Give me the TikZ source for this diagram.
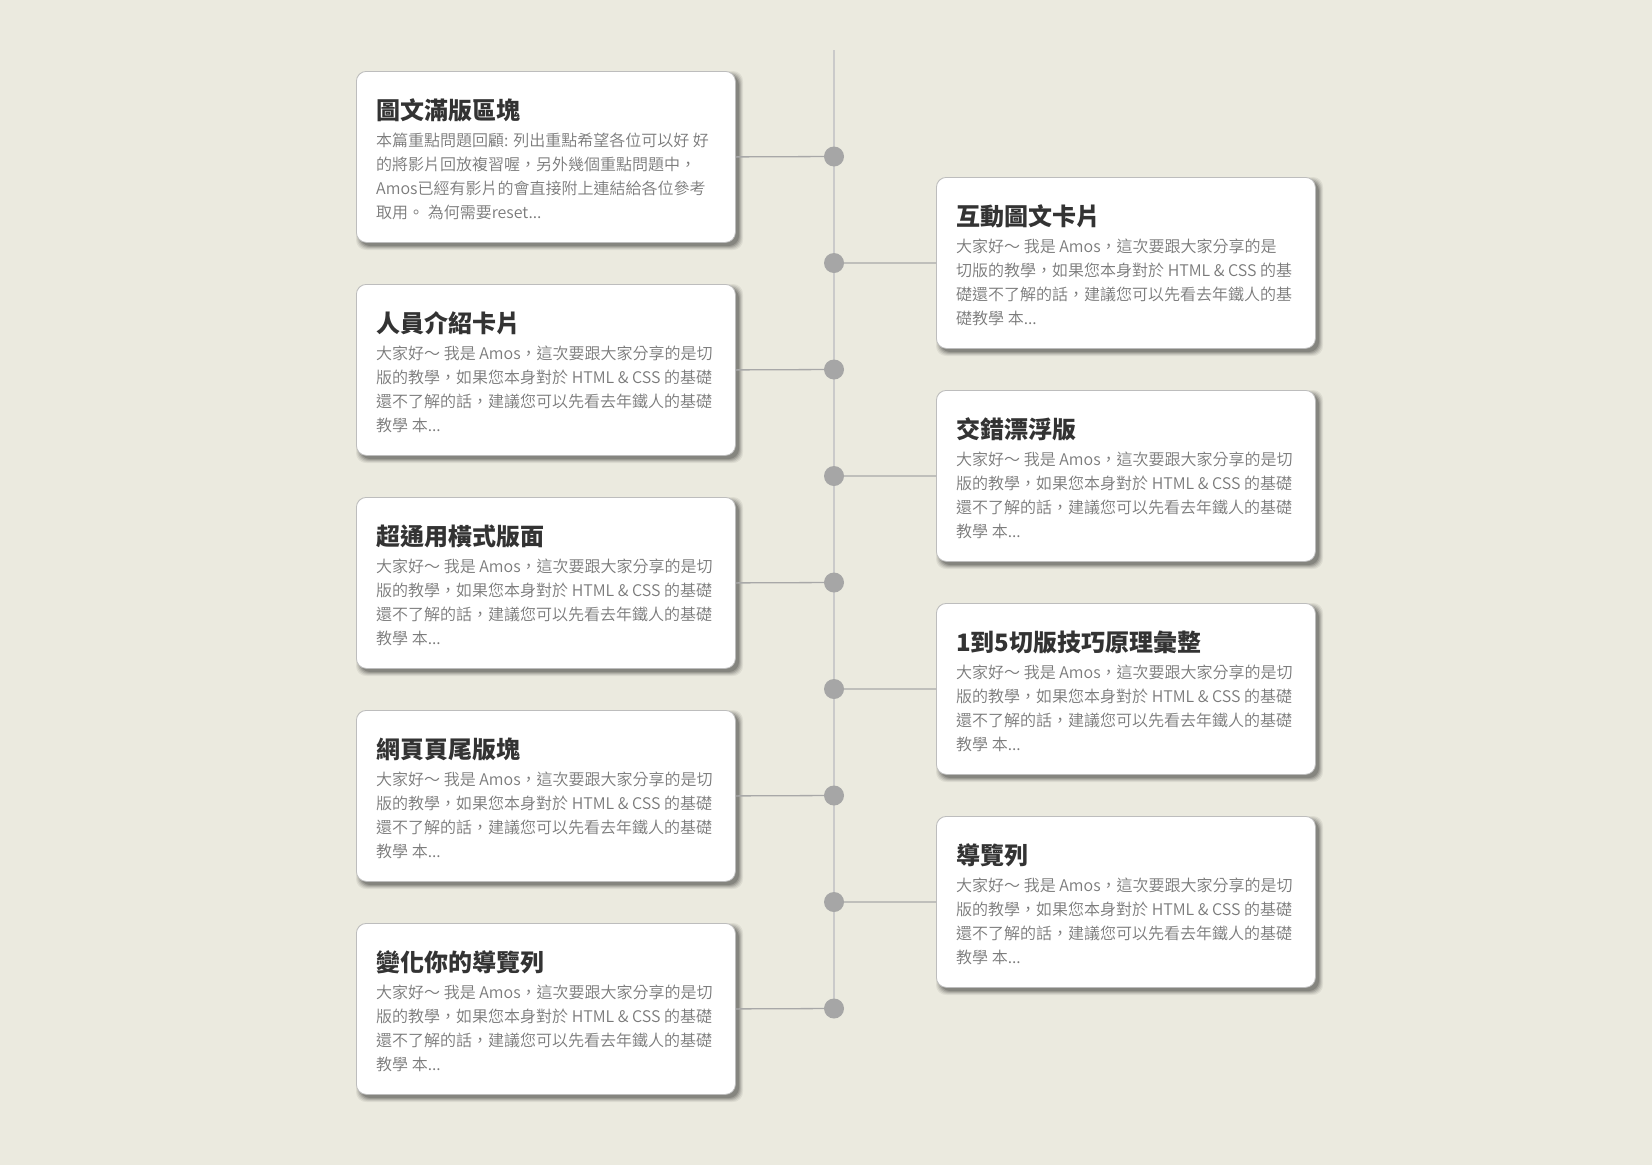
\documentclass[tikz,border=0pt]{standalone}
\usepackage{fontspec}
\setmainfont{Noto Sans CJK TC}
\newfontfamily\bodyfont{Noto Sans CJK TC DemiLight}
\usetikzlibrary{calc}
\definecolor{bg}{HTML}{EBEADF}
\definecolor{vlinec}{HTML}{CACACA}
\definecolor{hlinec}{HTML}{A8A8A8}
\definecolor{dotc}{HTML}{A6A6A6}
\definecolor{titlec}{HTML}{333333}
\definecolor{bodyc}{HTML}{7A7A7A}
\definecolor{cardedge}{HTML}{BDBDBD}
\pgfdeclarelayer{mid}
\pgfdeclarelayer{front}
\pgfsetlayers{main,mid,front}
\tikzset{
  card/.style={draw=cardedge, line width=0.8pt, fill=white, rounded corners=10pt,
    minimum width=379pt, minimum height=171pt, inner sep=0pt, anchor=north west},
  cardtitle/.style={anchor=base west, inner sep=0pt, text=titlec,
    font=\fontsize{24}{28}\selectfont\bfseries},
  cardbody/.style={anchor=base west, inner sep=0pt, text=bodyc,
    font=\bodyfont\fontsize{16}{24}\selectfont},
  tdot/.style={circle, fill=dotc, minimum size=20pt, inner sep=0pt},
  vl/.style={draw=vlinec, line width=1.2pt},
  hl/.style={draw=hlinec, line width=1.3pt},
}
\newcommand\cardshadow[2]{%
  \foreach \e/\o in {0/0.15,1/0.13,2/0.10,3/0.08,4/0.06}{%
    \fill[black, opacity=\o, rounded corners=10pt]
      (#1+4-\e, #2+4-\e) rectangle (#1+379+4+\e, #2+171+4+\e);
  }%
}
\newcommand\tlcard[5]{%
  \cardshadow{#2}{#3}
  \node[card] (#1) at (#2,#3) {};
  \node[cardtitle] (#1t) at (#2+20,#3+48) {#4};
  \node[cardbody] (#1b) at (#2+20,#3+75) {\parbox[t]{420pt}{#5}};
}
\newcommand\stdbody{大家好～ 我是 Amos，這次要跟大家分享的是切\\版的教學，如果您本身對於 HTML \& CSS 的基礎\\還不了解的話，建議您可以先看去年鐵人的基礎\\教學 本...}
\begin{document}
\begin{tikzpicture}[x=1pt,y=-1pt]
\fill[bg] (0,0) rectangle (1652,1165);
\useasboundingbox (0,0) rectangle (1652,1165);

% left cards
\tlcard{L1}{356}{71}{圖文滿版區塊}{本篇重點問題回顧: 列出重點希望各位可以好 好\\的將影片回放複習喔，另外幾個重點問題中，\\Amos已經有影片的會直接附上連結給各位參考\\取用。 為何需要reset...}
\tlcard{L2}{356}{284}{人員介紹卡片}{\stdbody}
\tlcard{L3}{356}{497}{超通用橫式版面}{\stdbody}
\tlcard{L4}{356}{710}{網頁頁尾版塊}{\stdbody}
\tlcard{L5}{356}{923}{變化你的導覽列}{\stdbody}
% right cards
\tlcard{R1}{936}{177}{互動圖文卡片}{大家好～ 我是 Amos，這次要跟大家分享的是\\切版的教學，如果您本身對於 HTML \& CSS 的基\\礎還不了解的話，建議您可以先看去年鐵人的基\\礎教學 本...}
\tlcard{R2}{936}{390}{交錯漂浮版}{\stdbody}
\tlcard{R3}{936}{603}{1到5切版技巧原理彙整}{\stdbody}
\tlcard{R4}{936}{816}{導覽列}{\stdbody}

% timeline dots
\begin{pgfonlayer}{front}
\foreach \k in {1,...,9}{
  \node[tdot] (d\k) at (834,{156.5+106.5*(\k-1)}) {};
}
\end{pgfonlayer}
\coordinate (ltop) at (834,50);

\begin{pgfonlayer}{mid}
\draw[vl] (ltop) -- (d9.center);
\draw[hl] (L1.east) -- (d1.center);
\draw[hl] (R1.west) -- (d2.center);
\draw[hl] (L2.east) -- (d3.center);
\draw[hl] (R2.west) -- (d4.center);
\draw[hl] (L3.east) -- (d5.center);
\draw[hl] (R3.west) -- (d6.center);
\draw[hl] (L4.east) -- (d7.center);
\draw[hl] (R4.west) -- (d8.center);
\draw[hl] (L5.east) -- (d9.center);
\end{pgfonlayer}
\end{tikzpicture}
\end{document}
